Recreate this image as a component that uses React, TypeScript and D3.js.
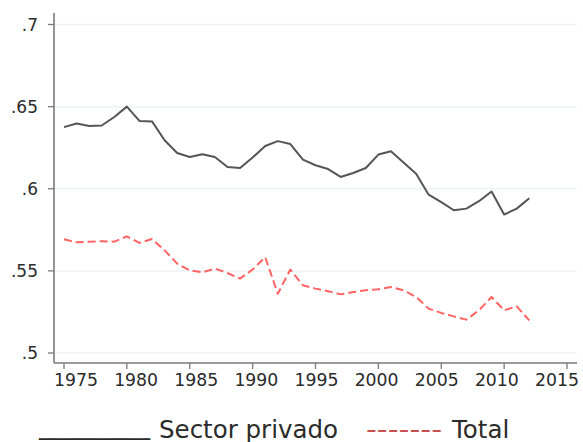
import React from "react";
import * as d3 from "d3";

const years = [
  1975, 1976, 1977, 1978, 1979, 1980, 1981, 1982, 1983, 1984, 1985, 1986, 1987, 1988, 1989,
  1990, 1991, 1992, 1993, 1994, 1995, 1996, 1997, 1998, 1999, 2000, 2001, 2002, 2003, 2004,
  2005, 2006, 2007, 2008, 2009, 2010, 2011, 2012,
];
const sectorPrivado = [
  0.6375, 0.6397, 0.6382, 0.6385, 0.6437, 0.65, 0.6413, 0.641, 0.6295, 0.6218, 0.6193, 0.621,
  0.6193, 0.6132, 0.6126, 0.619, 0.626, 0.629, 0.6272, 0.6177, 0.6143, 0.612, 0.6072, 0.6096,
  0.6126, 0.6208, 0.6228, 0.616, 0.6092, 0.5964, 0.5919, 0.5869, 0.5879, 0.5924, 0.5983,
  0.5843, 0.5879, 0.5942,
];
const total = [
  0.5692, 0.5674, 0.5678, 0.568, 0.5678, 0.571, 0.567, 0.5694, 0.5625, 0.5544, 0.5503, 0.5491,
  0.5514, 0.5487, 0.5453, 0.5508, 0.5584, 0.5361, 0.5508, 0.5412, 0.5392, 0.5376, 0.5357,
  0.5371, 0.5382, 0.5388, 0.5402, 0.5382, 0.5341, 0.527, 0.5244, 0.5223, 0.5203, 0.526, 0.5341,
  0.526, 0.5284, 0.5199,
];
const xTicks = [1975, 1980, 1985, 1990, 1995, 2000, 2005, 2010, 2015];
const yTicks = [0.5, 0.55, 0.6, 0.65, 0.7];
const yTickLabels = [".5", ".55", ".6", ".65", ".7"];
const legendLabels = ["Sector privado", "Total"];

const w = 583;
const h = 442;
const m = { left: 54, right: 577, top: 13, bottom: 363 };
const font = "'DejaVu Sans', Verdana, sans-serif";

const App = () => {
  const x = d3.scaleLinear().domain([1975, 2015]).range([64, 567]);
  // tick labels in the original sit on a slightly tighter spacing than the ticks
  const xLabel = d3.scaleLinear().domain([1975, 2015]).range([76, 557]);
  const y = d3.scaleLinear().domain([0.5, 0.7]).range([353, 24.5]);

  const line = d3
    .line<number>()
    .x((_, i) => x(years[i]))
    .y((d) => y(d));

  return (
    <svg
      width={w}
      height={h}
      style={{ position: "absolute", left: 0, top: 0, background: "#fff" }}
    >
      {/* gridlines */}
      {yTicks.map((t) => (
        <line
          key={"g" + t}
          x1={m.left}
          x2={m.right}
          y1={y(t)}
          y2={y(t)}
          stroke="#eef2f4"
          strokeWidth={1.5}
        />
      ))}

      {/* axes */}
      <line x1={m.left} x2={m.left} y1={m.top} y2={m.bottom} stroke="#7a7a7a" strokeWidth={1.6} />
      <line x1={m.left} x2={m.right} y1={m.bottom} y2={m.bottom} stroke="#7a7a7a" strokeWidth={1.6} />

      {yTicks.map((t, i) => (
        <g key={"y" + t}>
          <line x1={m.left - 6} x2={m.left} y1={y(t)} y2={y(t)} stroke="#7a7a7a" strokeWidth={1.3} />
          <text
            x={38}
            y={y(t)}
            dy="0.36em"
            textAnchor="end"
            fontFamily={font}
            fontSize={17}
            fill="#2b2b2b"
          >
            {yTickLabels[i]}
          </text>
        </g>
      ))}

      {xTicks.map((t) => (
        <g key={"x" + t}>
          <line x1={x(t)} x2={x(t)} y1={m.bottom} y2={m.bottom + 6} stroke="#7a7a7a" strokeWidth={1.3} />
          <text
            x={xLabel(t)}
            y={386}
            textAnchor="middle"
            fontFamily={font}
            fontSize={17.3}
            fill="#2b2b2b"
          >
            {t}
          </text>
        </g>
      ))}

      {/* series */}
      <path d={line(sectorPrivado) ?? ""} fill="none" stroke="#555555" strokeWidth={2} strokeLinejoin="round" />
      <path
        d={line(total) ?? ""}
        fill="none"
        stroke="#ff6464"
        strokeWidth={2}
        strokeDasharray="8,4"
        strokeLinejoin="round"
      />

      {/* legend */}
      <text x={39} y={434} fontFamily={font} fontSize={24.5} fill="#2b2b2b" textLength={111} lengthAdjust="spacingAndGlyphs">
        _________
      </text>
      <text x={159} y={438} fontFamily={font} fontSize={24.5} fill="#2b2b2b">
        {legendLabels[0]}
      </text>
      <text x={366} y={438} fontFamily={font} fontSize={24.5} fill="#c85050" textLength={76} lengthAdjust="spacingAndGlyphs">
        -------
      </text>
      <text x={452} y={438} fontFamily={font} fontSize={24.5} fill="#2b2b2b">
        {legendLabels[1]}
      </text>
    </svg>
  );
};

export default App;
